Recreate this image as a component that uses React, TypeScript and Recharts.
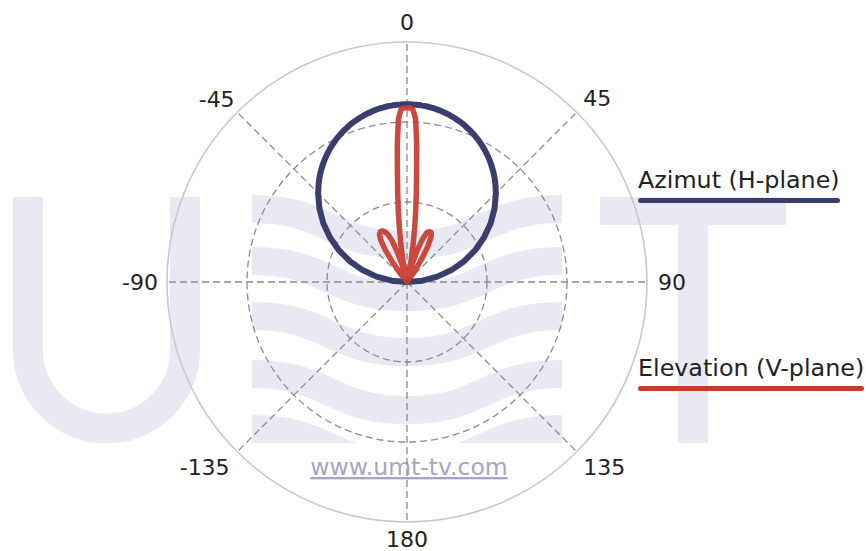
import {
  RadarChart,
  Radar,
  PolarGrid,
  PolarAngleAxis,
  PolarRadiusAxis,
  Legend,
} from "recharts";

// angle in degrees, 0 = main beam direction, clockwise positive
const angles = [
  -180, -150, -120, -100, -90, -85, -80, -75, -70, -65, -60, -55, -50, -45,
  -42, -40, -38, -36, -34, -32, -30, -28, -26, -24, -22, -20, -18, -16, -14,
  -13, -12, -11, -10, -9, -8, -7, -6, -5, -4, -3, -2, -1, 0, 1, 2, 3, 4, 5, 6,
  7, 8, 9, 10, 11, 12, 13, 14, 16, 18, 20, 22, 24, 26, 28, 30, 32, 34, 36, 38,
  40, 42, 45, 50, 55, 60, 65, 70, 75, 80, 85, 90, 100, 120, 150, 180,
];

// relative field strength, azimuth (H-plane)
const azimuth = [
  0, 0, 0, 0, 0, 0.087, 0.174, 0.259, 0.342, 0.423, 0.5, 0.574, 0.643, 0.707,
  0.743, 0.766, 0.788, 0.809, 0.829, 0.848, 0.866, 0.883, 0.899, 0.914, 0.927, 0.94, 0.951, 0.961, 0.97,
  0.974, 0.978, 0.982, 0.985, 0.988, 0.99, 0.993, 0.995, 0.996, 0.998, 0.999, 0.999, 1, 1, 1, 0.999, 0.999, 0.998, 0.996, 0.995,
  0.993, 0.99, 0.988, 0.985, 0.982, 0.978, 0.974, 0.97, 0.961, 0.951, 0.94, 0.927, 0.914, 0.899, 0.883, 0.866, 0.848, 0.829, 0.809, 0.788,
  0.766, 0.743, 0.707, 0.643, 0.574, 0.5, 0.423, 0.342, 0.259, 0.174, 0.087, 0, 0, 0, 0, 0,
];

// relative field strength, elevation (V-plane)
const elevation = [
  0, 0, 0, 0, 0, 0, 0, 0, 0, 0, 0, 0, 0, 0,
  0, 0.01, 0.06, 0.14, 0.22, 0.28, 0.31, 0.32, 0.32, 0.31, 0.29, 0.25, 0.18, 0.1, 0.03,
  0, 0.04, 0.1, 0.16, 0.23, 0.31, 0.4, 0.5, 0.62, 0.78, 0.92, 0.97, 0.98, 0.98, 0.98, 0.97, 0.92, 0.78, 0.62, 0.5,
  0.4, 0.31, 0.23, 0.16, 0.1, 0.04, 0, 0.03, 0.1, 0.19, 0.26, 0.3, 0.31, 0.31, 0.29, 0.24, 0.17, 0.1, 0.04, 0,
  0, 0, 0, 0, 0, 0, 0, 0, 0, 0, 0, 0, 0, 0, 0, 0,
];

const angleTicks = [0, 45, 90, 135, 180, -135, -90, -45];
const radiusTicks = [0.45, 0.9];
const seriesNames = ["Azimut (H-plane)", "Elevation (V-plane)"];
const seriesColors = ["#3a3e6e", "#c8392f"];

const data = angles.map((angle, i) => ({
  angle,
  az: azimuth[i],
  el: elevation[i],
}));

const FONT = '"DejaVu Sans", Verdana, sans-serif';
const WM = "#e8e9f2";

// label placement around the outer ring
const tickPlace: Record<number, { anchor: string; dx: number; dy: number }> = {
  0: { anchor: "middle", dx: 0, dy: -4 },
  45: { anchor: "start", dx: 1, dy: -1 },
  90: { anchor: "start", dx: 3, dy: 8 },
  135: { anchor: "start", dx: 1, dy: 18 },
  180: { anchor: "middle", dx: 0, dy: 17 },
  [-135]: { anchor: "end", dx: -2, dy: 18 },
  [-90]: { anchor: "end", dx: -1, dy: 8 },
  [-45]: { anchor: "end", dx: 3, dy: 0 },
};

const AngleTick = ({ x, y, payload }: any) => {
  const p = tickPlace[payload.value] || { anchor: "middle", dx: 0, dy: 0 };
  return (
    <text
      x={x + p.dx}
      y={y + p.dy}
      textAnchor={p.anchor as any}
      fontFamily={FONT}
      fontSize={22}
      fill="#222"
    >
      {payload.value}
    </text>
  );
};

const LegendContent = ({ payload }: any) => (
  <div style={{ fontFamily: FONT, fontSize: 23.8, color: "#222" }}>
    {(payload || []).map((entry: any, i: number) => (
      <div key={entry.value} style={{ marginTop: i ? 151 : 0 }}>
        <div style={{ display: "inline-block" }}>
          <div style={{ lineHeight: "normal", whiteSpace: "nowrap" }}>
            {entry.value}
          </div>
          <div
            style={{
              marginTop: 4,
              height: 5,
              borderRadius: 3,
              background: seriesColors[seriesNames.indexOf(entry.value)] || entry.color,
            }}
          />
        </div>
      </div>
    ))}
  </div>
);

const bandCenters = [209, 261, 316, 374, 429];

const Watermark = () => (
  <svg width={866} height={551} style={{ position: "absolute", left: 0, top: 0 }}>
    <defs>
      <clipPath id="wmclip">
        <rect x={0} y={190} width={866} height={253} />
      </clipPath>
    </defs>
    <g clipPath="url(#wmclip)">
      <path
        d="M28,197 V350 A78.5,78.5 0 0 0 185,350 V197"
        fill="none"
        stroke={WM}
        strokeWidth={30}
      />
      {bandCenters.map((c) => (
        <path
          key={c}
          d={`M252,${c} C330,${c} 330,${c + 36} 407,${c + 36} C484,${c + 36} 484,${c} 562,${c}`}
          fill="none"
          stroke={WM}
          strokeWidth={28}
        />
      ))}
      <rect x={600} y={197} width={186} height={28} fill={WM} />
      <rect x={678} y={197} width={30} height={250} fill={WM} />
    </g>
    <text
      x={409}
      y={475}
      textAnchor="middle"
      fontFamily={FONT}
      fontSize={23.5}
      fill="#a3a6c4"
      textDecoration="underline"
    >
      www.umt-tv.com
    </text>
  </svg>
);

const App = () => {
  return (
    <div
      style={{
        position: "absolute",
        left: 0,
        top: 0,
        width: 866,
        height: 551,
        background: "#fff",
      }}
    >
      <Watermark />
      <div style={{ position: "absolute", left: 0, top: 0 }}>
        <RadarChart
          width={866}
          height={551}
          data={data}
          cx={407}
          cy={282}
          innerRadius={0}
          outerRadius={240}
          startAngle={270}
          endAngle={-90}
          margin={{ top: 0, right: 0, bottom: 0, left: 0 }}
        >
          <PolarGrid
            gridType="circle"
            stroke="#8c8c8c"
            strokeDasharray="7 4"
            strokeWidth={1.3}
          />
          <PolarAngleAxis
            dataKey="angle"
            type="number"
            domain={[-180, 180]}
            ticks={angleTicks}
            tick={<AngleTick />}
            tickLine={false}
            tickSize={8}
            axisLineType="circle"
            axisLine={{ stroke: "#c9c9c9", strokeWidth: 1.6 }}
          />
          <PolarRadiusAxis
            type="number"
            domain={[0, 1.35]}
            ticks={radiusTicks}
            tick={false}
            axisLine={false}
          />
          <Radar
            name={seriesNames[0]}
            dataKey="az"
            stroke={seriesColors[0]}
            strokeWidth={6}
            strokeLinejoin="round"
            fill="none"
            fillOpacity={0}
            dot={false}
            isAnimationActive={false}
          />
          <Radar
            name={seriesNames[1]}
            dataKey="el"
            stroke={seriesColors[1]}
            strokeOpacity={0.92}
            strokeWidth={5.5}
            strokeLinejoin="round"
            fill="none"
            fillOpacity={0}
            dot={false}
            isAnimationActive={false}
          />
          <Legend
            layout="vertical"
            align="right"
            verticalAlign="top"
            content={<LegendContent />}
            wrapperStyle={{ left: 638, top: 166, width: 228 }}
          />
        </RadarChart>
      </div>
    </div>
  );
};

export default App;
